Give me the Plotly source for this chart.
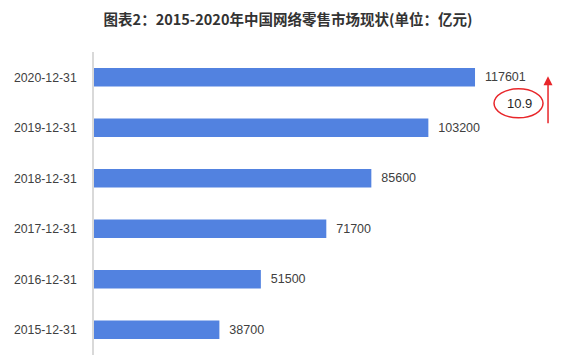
import plotly.graph_objects as go

categories = ["2015-12-31", "2016-12-31", "2017-12-31", "2018-12-31", "2019-12-31", "2020-12-31"]
values = [38700, 51500, 71700, 85600, 103200, 117601]
growth_label = "10.9"
title_text = "图表2：2015-2020年中国网络零售市场现状(单位：亿元)"

fig = go.Figure()
fig.add_trace(go.Bar(
    y=categories, x=values, orientation="h",
    marker=dict(color="#5282E0", line=dict(width=0)),
    width=0.37,
    text=["\u00a0\u00a0" + str(v) for v in values],
    textposition="outside",
    textfont=dict(family="Liberation Sans, Arial", size=12.5, color="#404040"),
    cliponaxis=False,
))

# growth callout
fig.add_shape(type="circle", xref="x", yref="y",
              x0=123465, x1=138590, y0=4.196, y1=4.77,
              line=dict(color="#E8262A", width=1.5))
fig.add_annotation(x=131180, y=4.49, xref="x", yref="y", text=growth_label,
                   showarrow=False,
                   font=dict(family="Liberation Sans, Arial", size=13, color="#262626"))
fig.add_annotation(x=140133, y=5.02, xref="x", yref="y",
                   ax=140133, ay=4.06, axref="x", ayref="y",
                   text="", showarrow=True, arrowhead=2, arrowsize=1.2,
                   arrowwidth=1.5, arrowcolor="#E8262A")

# page body has an 8px default margin, so the figure is sized to fit the window
fig.update_layout(
    width=566, height=350,
    margin=dict(l=86, r=0, t=44, b=3, autoexpand=False),
    paper_bgcolor="white", plot_bgcolor="white",
    showlegend=False,
    title=dict(text="<b>" + title_text + "</b>", x=280 / 566, xanchor="center",
               y=1 - 11.5 / 350, yanchor="middle",
               font=dict(family="Noto Sans CJK SC", size=14.5, color="#333333")),
    bargap=0.63,
)
fig.update_xaxes(range=[0, 148150], visible=False, showgrid=False, zeroline=False,
                 automargin=False)
fig.update_yaxes(type="category", categoryorder="array", categoryarray=categories,
                 range=[-0.5, 5.5], automargin=False,
                 showline=True, linecolor="#D9D9D9", linewidth=1.5,
                 showgrid=False, zeroline=False, ticks="",
                 ticklabelstandoff=13,
                 tickfont=dict(family="Liberation Sans, Arial", size=12.3, color="#404040"))

fig.write_html("out.html")
